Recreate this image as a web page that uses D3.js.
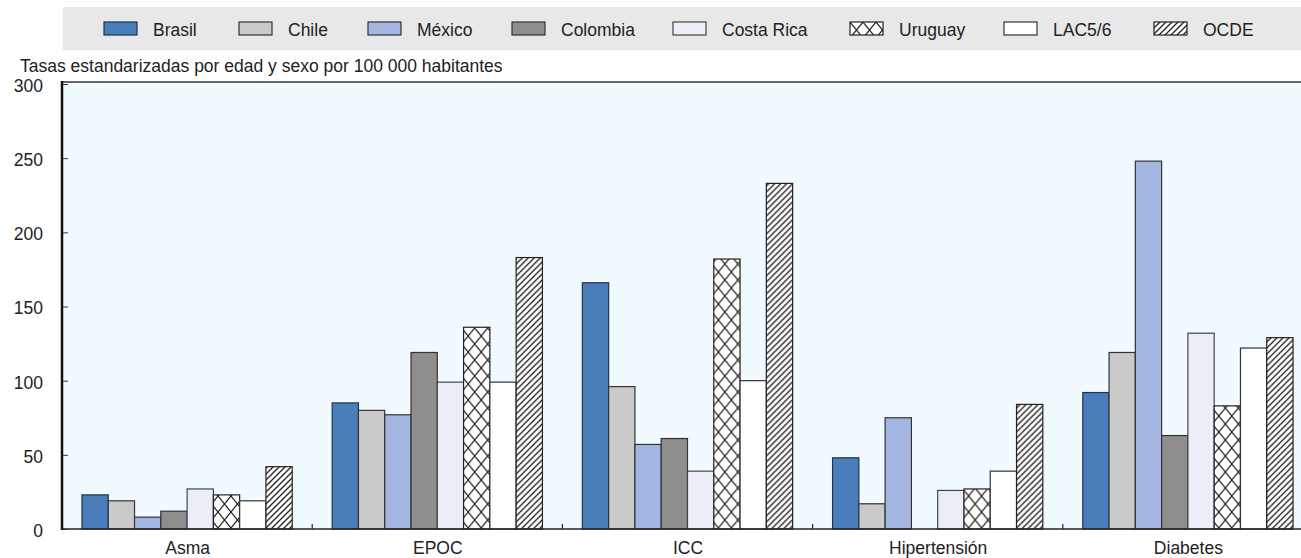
<!DOCTYPE html>
<html>
<head>
<meta charset="utf-8">
<script src="https://cdn.jsdelivr.net/npm/d3@7"></script>
<style>
  html, body { margin: 0; padding: 0; background: #fff; }
  svg { display: block; font-family: "Liberation Sans", Arial, sans-serif; }
</style>
</head>
<body>
<svg id="chart" width="1301" height="558"></svg>
<script>
const categories = ["Asma", "EPOC", "ICC", "Hipertensión", "Diabetes"];
const series = ["Brasil", "Chile", "México", "Colombia", "Costa Rica", "Uruguay", "LAC5/6", "OCDE"];
const brasil    = [23, 85, 166, 48, 92];
const chile     = [19, 80, 96, 17, 119];
const mexico    = [8, 77, 57, 75, 248];
const colombia  = [12, 119, 61, null, 63];
const costaRica = [27, 99, 39, 26, 132];
const uruguay   = [23, 136, 182, 27, 83];
const lac       = [19, 99, 100, 39, 122];
const ocde      = [42, 183, 233, 84, 129];
const seriesValues = [brasil, chile, mexico, colombia, costaRica, uruguay, lac, ocde];
const yTicks = [0, 50, 100, 150, 200, 250, 300];
const yTitle = "Tasas estandarizadas por edad y sexo por 100 000 habitantes";

const svg = d3.select("#chart");
const defs = svg.append("defs");

// Patterns
const cross = defs.append("pattern").attr("id", "pat-cross")
  .attr("patternUnits", "userSpaceOnUse").attr("width", 13).attr("height", 16);
cross.append("rect").attr("width", 13).attr("height", 16).attr("fill", "#fff");
cross.append("path").attr("d", "M0,0 L13,16 M13,0 L0,16")
  .attr("stroke", "#222").attr("stroke-width", 1.2).attr("fill", "none");

const hatch = defs.append("pattern").attr("id", "pat-hatch")
  .attr("patternUnits", "userSpaceOnUse").attr("width", 6).attr("height", 6);
hatch.append("rect").attr("width", 6).attr("height", 6).attr("fill", "#fff");
hatch.append("path").attr("d", "M-1,7 L7,-1 M-4,4 L4,-4 M2,10 L10,2")
  .attr("stroke", "#222").attr("stroke-width", 1.3).attr("fill", "none");

const fills = {
  "Brasil": "#4a7ebb",
  "Chile": "#cacaca",
  "México": "#a4b6e2",
  "Colombia": "#8e8e8e",
  "Costa Rica": "#eceef7",
  "Uruguay": "url(#pat-cross)",
  "LAC5/6": "#ffffff",
  "OCDE": "url(#pat-hatch)"
};
const strokes = {
  "Brasil": "#1d3550", "Chile": "#333", "México": "#333", "Colombia": "#333",
  "Costa Rica": "#444", "Uruguay": "#222", "LAC5/6": "#333", "OCDE": "#222"
};

// Legend
svg.append("rect").attr("x", 63).attr("y", 7).attr("width", 1250).attr("height", 43).attr("fill", "#e8e8e8");
const legendX = [104, 239, 368, 512, 673, 850, 1004, 1154];
const leg = svg.append("g").selectAll("g").data(series).join("g")
  .attr("transform", (d, i) => `translate(${legendX[i]},22)`);
leg.append("rect").attr("width", 33).attr("height", 13)
  .attr("fill", d => fills[d]).attr("stroke", d => strokes[d]).attr("stroke-width", 1.2);
leg.append("text").attr("x", 49).attr("y", 14).attr("font-size", 17.5).attr("fill", "#222").text(d => d);

// Scales
const plotLeft = 62, plotRight = 1313, plotTop = 84, plotBottom = 529;
const y = d3.scaleLinear().domain([0, 300]).range([plotBottom, plotTop]);
const x0 = d3.scaleBand().domain(categories).range([plotLeft, plotRight]).paddingInner(0).paddingOuter(0);
const x1 = d3.scaleBand().domain(series).range([0, x0.bandwidth()]).paddingInner(0).paddingOuter(0.76);

// Plot background
svg.append("rect").attr("x", plotLeft).attr("y", plotTop - 2).attr("width", plotRight - plotLeft).attr("height", plotBottom - plotTop + 2)
  .attr("fill", "#f1fafe");
svg.append("line").attr("x1", plotLeft).attr("x2", plotRight).attr("y1", plotTop - 2).attr("y2", plotTop - 2)
  .attr("stroke", "#333").attr("stroke-width", 1.5);

// Y title
svg.append("text").attr("x", 20).attr("y", 72).attr("font-size", 17.5).attr("fill", "#222").text(yTitle);

// Bars
const groups = svg.append("g").selectAll("g").data(categories).join("g")
  .attr("transform", d => `translate(${x0(d)},0)`);
groups.selectAll("rect").data((c, ci) => series.map((s, si) => ({s, v: seriesValues[si][ci]})).filter(d => d.v != null))
  .join("rect")
  .attr("x", d => x1(d.s))
  .attr("width", x1.bandwidth())
  .attr("y", d => y(d.v))
  .attr("height", d => y(0) - y(d.v))
  .attr("fill", d => fills[d.s])
  .attr("stroke", d => strokes[d.s])
  .attr("stroke-width", 1.2);

// X axis
const xAxisG = svg.append("g").attr("transform", `translate(0,${plotBottom})`);
xAxisG.append("line").attr("x1", plotLeft).attr("x2", plotRight).attr("stroke", "#222").attr("stroke-width", 1.5);
xAxisG.selectAll(".bt").data(categories.slice(1)).join("line")
  .attr("x1", d => x0(d)).attr("x2", d => x0(d)).attr("y1", 0).attr("y2", -5)
  .attr("stroke", "#222").attr("stroke-width", 1.2);
xAxisG.selectAll(".lbl").data(categories).join("text")
  .attr("x", d => x0(d) + x0.bandwidth() / 2 + 0.5).attr("y", 25)
  .attr("text-anchor", "middle").attr("font-size", 17.5).attr("fill", "#222").text(d => d);

// Y axis
const yAxis = d3.axisLeft(y).tickValues(yTicks).tickSizeInner(-6).tickSizeOuter(0).tickPadding(19);
const yg = svg.append("g").attr("transform", `translate(${plotLeft},0)`).call(yAxis);
yg.select(".domain").remove();
yg.selectAll(".tick line").attr("stroke", "#333");
yg.selectAll(".tick text").attr("font-size", 17.5).attr("fill", "#222").attr("font-family", null).attr("dy", "0.42em");
svg.append("line").attr("x1", plotLeft).attr("x2", plotLeft).attr("y1", plotTop - 3).attr("y2", plotBottom + 1)
  .attr("stroke", "#111").attr("stroke-width", 2.5);
</script>
</body>
</html>
